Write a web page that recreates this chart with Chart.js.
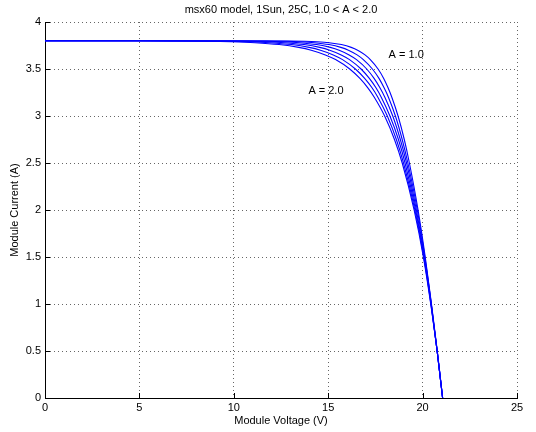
<!DOCTYPE html>
<html>
<head>
<meta charset="utf-8">
<script src="https://cdn.jsdelivr.net/npm/chart.js@4/dist/chart.umd.min.js"></script>
<style>
  html, body { margin: 0; padding: 0; background: #fff; }
  #wrap { width: 536px; height: 432px; }
</style>
</head>
<body>
<div id="wrap"><canvas id="iv"></canvas></div>
<script>
// Module current levels (A), shared by all curves
const currents = [3.8, 3.8, 3.798, 3.795, 3.79, 3.78, 3.76, 3.73, 3.7, 3.65, 3.6, 3.5, 3.4, 3.3, 3.2, 3.0, 2.75, 2.5, 2.0, 1.5, 1.0, 0.5, 0];

// Module voltage (V) at each current level, one list per ideality factor A
const idealityLabels = ['1.0', '1.2', '1.4', '1.6', '1.8', '2.0'];
const voltsA10 = [0, 5, 12.91, 13.76, 14.40, 15.05, 15.70, 16.22, 16.56, 16.95, 17.23, 17.64, 17.94, 18.17, 18.37, 18.70, 19.03, 19.30, 19.76, 20.14, 20.47, 20.78, 21.06];
const voltsA12 = [0, 5, 11.70, 12.72, 13.49, 14.26, 15.04, 15.67, 16.07, 16.53, 16.86, 17.34, 17.69, 17.96, 18.19, 18.56, 18.92, 19.22, 19.72, 20.12, 20.46, 20.77, 21.06];
const voltsA14 = [0, 5, 10.49, 11.68, 12.58, 13.48, 14.38, 15.11, 15.58, 16.11, 16.50, 17.04, 17.43, 17.74, 18.00, 18.42, 18.82, 19.15, 19.67, 20.10, 20.46, 20.77, 21.06];
const voltsA16 = [0, 5, 9.28, 10.64, 11.66, 12.69, 13.72, 14.55, 15.08, 15.69, 16.13, 16.74, 17.18, 17.53, 17.81, 18.27, 18.72, 19.07, 19.63, 20.08, 20.45, 20.77, 21.06];
const voltsA18 = [0, 5, 8.07, 9.60, 10.75, 11.90, 13.06, 13.99, 14.59, 15.27, 15.76, 16.44, 16.93, 17.32, 17.63, 18.13, 18.61, 18.99, 19.59, 20.06, 20.44, 20.77, 21.06];
const voltsA20 = [0, 5, 6.85, 8.55, 9.83, 11.12, 12.40, 13.44, 14.10, 14.85, 15.39, 16.14, 16.68, 17.10, 17.44, 17.99, 18.51, 18.92, 19.55, 20.04, 20.43, 20.77, 21.06];
const curves = [voltsA10, voltsA12, voltsA14, voltsA16, voltsA18, voltsA20];

// Axis ticks
const xTicks = [0, 5, 10, 15, 20, 25];
const yTicks = [0, 0.5, 1, 1.5, 2, 2.5, 3, 3.5, 4];

// Curve annotations (text, voltage, current)
const notes = [
  { text: 'A = 1.0', v: 18.2, i: 3.65 },
  { text: 'A = 2.0', v: 13.95, i: 3.27 }
];

const FONT = '"Liberation Sans", Arial, Helvetica, sans-serif';

const datasets = curves.map((volts, k) => ({
  label: 'A = ' + idealityLabels[k],
  data: volts.map((v, j) => ({ x: v, y: currents[j] })),
  borderColor: '#0000ff',
  borderWidth: 1.1,
  pointRadius: 0,
  showLine: true,
  fill: false,
  cubicInterpolationMode: 'monotone'
}));

// Inward tick marks, titles and curve labels
const extras = {
  id: 'extras',
  afterDatasetsDraw(chart) {
    const { ctx, chartArea, scales } = chart;
    const x = scales.x, y = scales.y;
    ctx.save();
    ctx.strokeStyle = '#000';
    ctx.lineWidth = 1;
    ctx.beginPath();
    xTicks.forEach(t => {
      const px = Math.round(x.getPixelForValue(t)) + 0.5;
      ctx.moveTo(px, chartArea.bottom);
      ctx.lineTo(px, chartArea.bottom - 5);
    });
    yTicks.forEach(t => {
      const py = Math.round(y.getPixelForValue(t)) + 0.5;
      ctx.moveTo(chartArea.left, py);
      ctx.lineTo(chartArea.left + 5, py);
    });
    ctx.stroke();

    ctx.fillStyle = '#000';
    ctx.font = '11px ' + FONT;
    ctx.textBaseline = 'middle';
    ctx.textAlign = 'left';
    notes.forEach(n => {
      ctx.fillText(n.text, x.getPixelForValue(n.v), y.getPixelForValue(n.i));
    });
    ctx.textAlign = 'center';
    const midX = (chartArea.left + chartArea.right) / 2;
    ctx.fillText('msx60 model, 1Sun, 25C, 1.0 < A < 2.0', midX, 10);
    ctx.fillText('Module Voltage (V)', midX, 421);
    ctx.restore();
  }
};

new Chart(document.getElementById('iv'), {
  type: 'scatter',
  data: { datasets },
  plugins: [extras],
  options: {
    responsive: true,
    maintainAspectRatio: false,
    animation: false,
    layout: { padding: { top: 22, right: 19, left: 0, bottom: 8 } },
    plugins: {
      legend: { display: false },
      tooltip: { enabled: false }
    },
    scales: {
      x: {
        type: 'linear',
        min: 0,
        max: 25,
        afterBuildTicks: (s) => { s.ticks = xTicks.map(v => ({ value: v })); },
        afterFit: (s) => { s.height = 26; },
        ticks: { color: '#000', font: { family: FONT, size: 11 }, padding: 3, maxRotation: 0, callback: (v) => String(v) },
        grid: { color: '#666', lineWidth: 1, drawTicks: false, tickLength: 0 },
        border: { display: true, color: '#000', width: 1, dash: [1, 3] },
        title: { display: false }
      },
      y: {
        type: 'linear',
        min: 0,
        max: 4,
        afterBuildTicks: (s) => { s.ticks = yTicks.map(v => ({ value: v })); },
        afterFit: (s) => { s.width = 45; },
        ticks: { color: '#000', font: { family: FONT, size: 11 }, padding: 4, callback: (v) => String(v) },
        grid: { color: '#666', lineWidth: 1, drawTicks: false, tickLength: 0 },
        border: { display: true, color: '#000', width: 1, dash: [1, 3] },
        title: { display: true, text: 'Module Current (A)', color: '#000', font: { family: FONT, size: 11 }, padding: { top: 8, bottom: 0 } }
      }
    }
  }
});
</script>
</body>
</html>
